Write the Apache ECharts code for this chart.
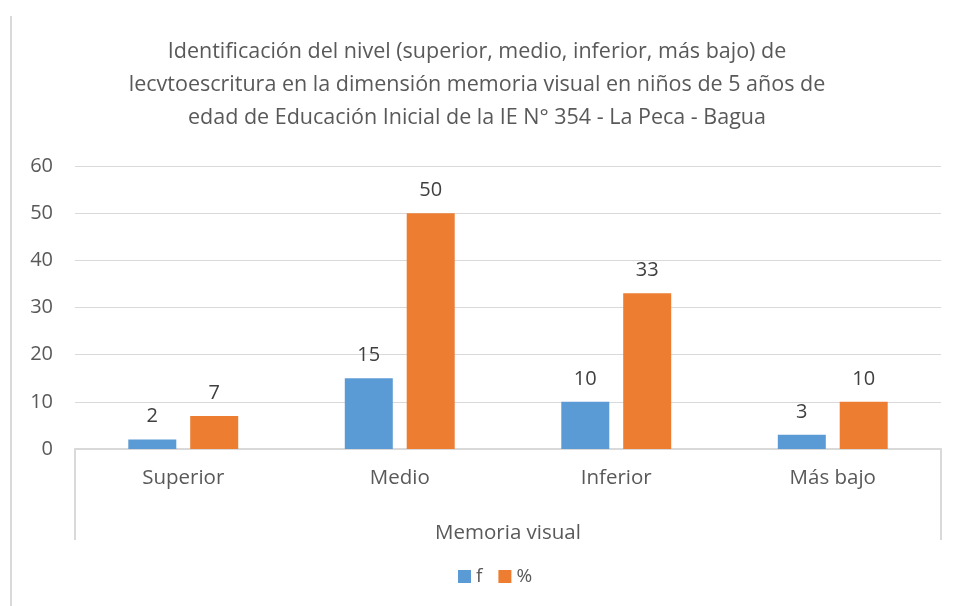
<!DOCTYPE html>
<html>
<head>
<meta charset="utf-8">
<script src="https://cdn.jsdelivr.net/npm/echarts@6/dist/echarts.min.js"></script>
<style>
  html, body { margin: 0; padding: 0; background: #fff; }
  #chart { width: 959px; height: 606px; }
</style>
</head>
<body>
<div id="chart"></div>
<script>
const categories = ['Superior', 'Medio', 'Inferior', 'Más bajo']
const groupLabel = ['Memoria visual']
const fValues = [2, 15, 10, 3]
const pctValues = [7, 50, 33, 10]

const textFont = 'Open Sans'
let myChart = echarts.init(document.getElementById('chart'))
let option = {
  backgroundColor: '#fff',
  textStyle: { fontFamily: textFont },
  title: {
    text: 'Identificación del nivel (superior, medio, inferior, más bajo) de\nlecvtoescritura en la dimensión memoria visual en niños de 5 años de\nedad de Educación Inicial de la IE N° 354 - La Peca - Bagua',
    left: 472,
    textAlign: 'center',
    top: 30,
    textStyle: {
      color: '#595959',
      fontSize: 21.5,
      fontWeight: 'normal',
      lineHeight: 33,
      fontFamily: textFont
    }
  },
  legend: {
    bottom: 15,
    left: 453,
    icon: 'rect',
    itemWidth: 13,
    itemHeight: 13,
    itemGap: 16,
    textStyle: { color: '#595959', fontSize: 19 },
    data: ['f', '%']
  },
  grid: { left: 75, right: 18, top: 166, bottom: 157 },
  xAxis: [
    {
      type: 'category',
      data: categories,
      axisLine: { lineStyle: { color: '#d9d9d9', width: 2 } },
      axisTick: { show: false },
      axisLabel: { color: '#595959', fontSize: 20.5, margin: 19 }
    },
    {
      type: 'category',
      data: groupLabel,
      position: 'bottom',
      offset: 91,
      axisLine: { show: false },
      axisTick: { show: true, inside: true, length: 91, lineStyle: { color: '#d9d9d9', width: 2 } },
      axisLabel: { inside: true, color: '#595959', fontSize: 20.5, margin: -4 }
    }
  ],
  yAxis: {
    type: 'value',
    min: 0,
    max: 60,
    interval: 10,
    axisLine: { show: false },
    axisTick: { show: false },
    axisLabel: { color: '#595959', fontSize: 20, margin: 22 },
    splitLine: { lineStyle: { color: '#d9d9d9', width: 1 } }
  },
  series: [
    {
      name: 'f',
      type: 'bar',
      data: fValues,
      barWidth: 48,
      barGap: '29%',
      itemStyle: { color: '#5b9bd5' },
      label: { show: true, position: 'top', color: '#404040', fontSize: 20, distance: 13 }
    },
    {
      name: '%',
      type: 'bar',
      data: pctValues,
      barWidth: 48,
      itemStyle: { color: '#ed7d31' },
      label: { show: true, position: 'top', color: '#404040', fontSize: 20, distance: 13 }
    }
  ],
  graphic: [
    {
      type: 'line',
      shape: { x1: 11, y1: 16, x2: 11, y2: 606 },
      style: { stroke: '#d9d9d9', lineWidth: 2 }
    }
  ]
}
myChart.setOption(option)
</script>
</body>
</html>
